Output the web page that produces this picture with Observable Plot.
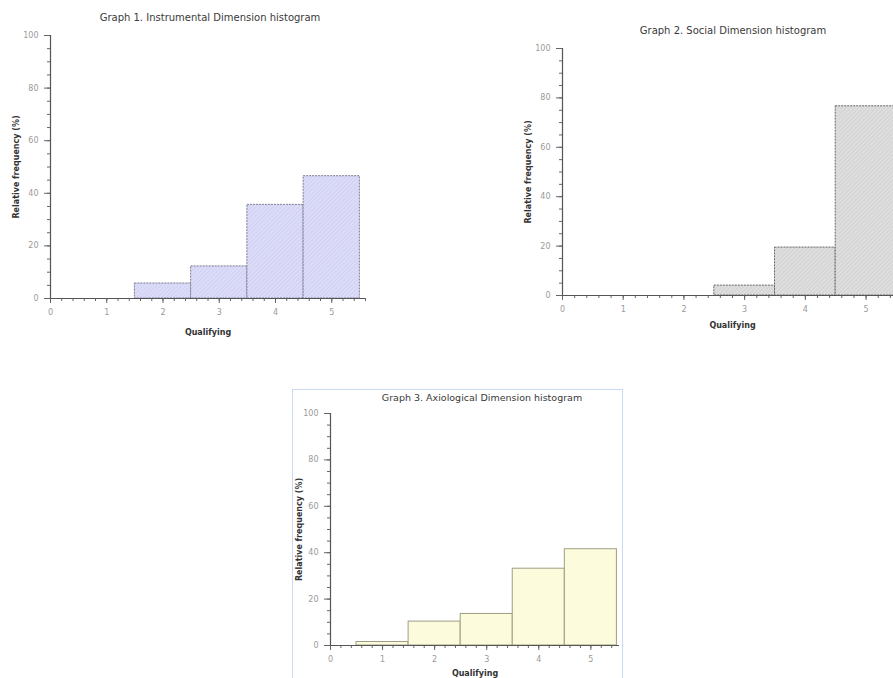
<!DOCTYPE html>
<html>
<head>
<meta charset="utf-8">
<script src="https://cdn.jsdelivr.net/npm/d3@7"></script>
<script src="https://cdn.jsdelivr.net/npm/@observablehq/plot@0.6"></script>
<style>
  html, body { margin: 0; padding: 0; background: #fff; overflow: hidden; }
  #page { position: relative; width: 893px; height: 678px; overflow: hidden; background: #fff; font-family: "DejaVu Sans", sans-serif; }
  .chart { position: absolute; }
  .title { position: absolute; transform: translate(-50%, -50%); white-space: nowrap; color: #3a3a3a; font-size: 10px; font-weight: normal; }
  #box3 { position: absolute; left: 292px; top: 389px; width: 331px; height: 300px; border: 1.5px solid #c9d8f5; box-sizing: border-box; }
</style>
</head>
<body>
<div id="page">
  <svg width="0" height="0" style="position:absolute">
    <defs>
      <pattern id="hatch1" width="3" height="3" patternUnits="userSpaceOnUse" patternTransform="rotate(45)">
        <rect width="3" height="3" fill="#dcdcf9"></rect>
        <line x1="0" y1="0" x2="0" y2="3" stroke="#c4c4ee" stroke-width="1"></line>
      </pattern>
      <pattern id="hatch2" width="3" height="3" patternUnits="userSpaceOnUse" patternTransform="rotate(45)">
        <rect width="3" height="3" fill="#dedede"></rect>
        <line x1="0" y1="0" x2="0" y2="3" stroke="#c6c6c6" stroke-width="1"></line>
      </pattern>
    </defs>
  </svg>
  <div id="box3"></div>
</div>
<script>
// Data
const categories = [1, 2, 3, 4, 5];
const instrumental = [0, 5.7, 12.2, 35.6, 46.5];
const social = [0, 0, 4.0, 19.4, 76.6];
const axiological = [1.5, 10.3, 13.6, 33.1, 41.5];
const yTicks = [0, 20, 40, 60, 80, 100];
const xTicks = [0, 1, 2, 3, 4, 5];
const titles = [
  "Graph 1. Instrumental Dimension histogram",
  "Graph 2. Social Dimension histogram",
  "Graph 3. Axiological Dimension histogram"
];
const xLabel = "Qualifying";
const yLabel = "Relative frequency (%)";

const page = document.getElementById("page");

function makeChart(cfg) {
  const rows = categories.map((c, i) => ({c, v: cfg.values[i]})).filter(d => d.v > 0);
  const xMinor = d3.range(0, cfg.xmax + 1e-9, 0.2).map(v => +v.toFixed(2));
  const yMinor = d3.range(0, 101, 5);
  const chart = Plot.plot({
    width: cfg.width,
    height: cfg.height,
    marginLeft: cfg.marginLeft,
    marginTop: cfg.marginTop,
    marginBottom: cfg.marginBottom,
    marginRight: cfg.marginRight,
    style: {fontFamily: "DejaVu Sans, sans-serif", fontSize: "8px", background: "transparent", overflow: "visible"},
    x: {domain: [0, cfg.xmax]},
    y: {domain: [0, 100]},
    marks: [
      Plot.rectY(rows, {
        x1: d => d.c - 0.5, x2: d => d.c + 0.5, y1: 0, y2: "v",
        fill: cfg.fill, stroke: cfg.stroke, strokeWidth: 1, strokeDasharray: cfg.dash, inset: 0
      }),
      Plot.axisY({ticks: yMinor, tickSize: 3, text: null, stroke: "#666", label: null}),
      Plot.axisY({ticks: yTicks, tickSize: 6, tickPadding: 6, tickFormat: d => String(d), stroke: "#666", fill: "#9a9a9a",
        label: yLabel, labelAnchor: "center", labelOffset: cfg.yLabelOffset}),
      Plot.axisX({ticks: xMinor, tickSize: 3, text: null, stroke: "#666", label: null}),
      Plot.axisX({ticks: xTicks, tickSize: 5, tickPadding: 6, tickFormat: d => String(d), stroke: "#666", fill: "#9a9a9a",
        label: xLabel, labelAnchor: "center", labelOffset: cfg.xLabelOffset}),
      Plot.ruleX([0], {stroke: "#555", strokeWidth: 1.2}),
      Plot.ruleY([0], {stroke: "#555", strokeWidth: 1.2})
    ]
  });
  chart.classList.add("chart");
  chart.style.left = cfg.left + "px";
  chart.style.top = cfg.top + "px";
  d3.select(chart).selectAll('g[aria-label$="axis label"] text')
    .attr("fill", "#333").attr("font-weight", "bold").attr("font-size", "8px")
    .each(function () {
      const s = d3.select(this);
      const tsp = s.selectAll("tspan");
      const clean = str => str.replace(/\s*[→←↑↓]\s*/g, "").trim();
      if (tsp.size()) tsp.each(function () { this.textContent = clean(this.textContent); });
      else this.textContent = clean(this.textContent);
    });
  page.appendChild(chart);

  const t = document.createElement("div");
  t.className = "title";
  t.textContent = cfg.title;
  t.style.left = cfg.tx + "px";
  t.style.top = cfg.ty + "px";
  t.style.fontSize = cfg.tsize + "px";
  page.appendChild(t);
}

makeChart({
  values: instrumental, title: titles[0], tx: 210, ty: 17, tsize: 10,
  left: 0, top: 0, width: 375, height: 338, marginLeft: 50, marginTop: 35, marginBottom: 40, marginRight: 10,
  xmax: 5.6, fill: "url(#hatch1)", stroke: "#7d7d92", dash: "2,1",
  yLabelOffset: 37, xLabelOffset: 36
});
makeChart({
  values: social, title: titles[1], tx: 733, ty: 30, tsize: 10,
  left: 512, top: 0, width: 400, height: 335, marginLeft: 50, marginTop: 48, marginBottom: 40, marginRight: 10,
  xmax: 5.6, fill: "url(#hatch2)", stroke: "#666666", dash: "2,1",
  yLabelOffset: 37, xLabelOffset: 32
});
makeChart({
  values: axiological, title: titles[2], tx: 482, ty: 397, tsize: 9.5,
  left: 280, top: 380, width: 349, height: 305, marginLeft: 50, marginTop: 33, marginBottom: 40, marginRight: 10,
  xmax: 5.55, fill: "#fcfbdb", stroke: "#9e9e86", dash: null,
  yLabelOffset: 34, xLabelOffset: 30
});
</script>
</body>
</html>
